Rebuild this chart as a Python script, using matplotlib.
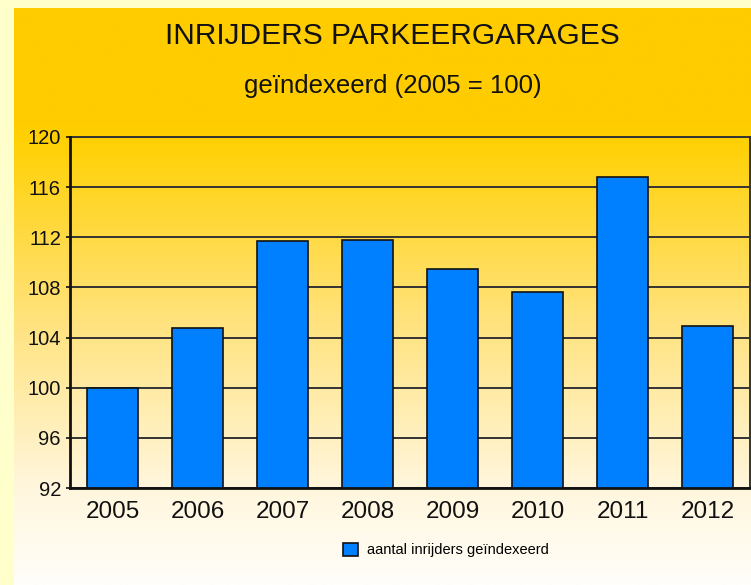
import matplotlib
matplotlib.use('Agg')
import matplotlib.pyplot as plt
import numpy as np
from matplotlib.colors import LinearSegmentedColormap

years = ['2005', '2006', '2007', '2008', '2009', '2010', '2011', '2012']
index_values = [100.0, 104.8, 111.7, 111.8, 109.5, 107.6, 116.8, 104.9]
y_ticks = [92, 96, 100, 104, 108, 112, 116, 120]

title = 'INRIJDERS PARKEERGARAGES'
subtitle = 'geïndexeerd (2005 = 100)'
legend_label = 'aantal inrijders geïndexeerd'

plt.rcParams['font.family'] = ['Liberation Sans', 'DejaVu Sans']

W, H = 751, 585
fig = plt.figure(figsize=(W / 100, H / 100), dpi=100)
fig.patch.set_facecolor('#FFFFCC')

# chart background: solid gold on top, fading to near white
bg = fig.add_axes([14 / W, 0, 1 - 14 / W, 1 - 8 / H], zorder=0)
bg.axis('off')
cmap = LinearSegmentedColormap.from_list(
    'bg', [(0.0, '#FFCC00'), (0.19, '#FFCC00'), (0.22, '#FFD000'),
           (0.55, '#FFE380'), (0.83, '#FFF6DC'), (1.0, '#FFFEFA')])
grad = np.linspace(0, 1, 400).reshape(-1, 1)
bg.imshow(grad, aspect='auto', cmap=cmap, extent=[0, 1, 0, 1], origin='upper')

ax = fig.add_axes([70 / W, (H - 488) / H, 680 / W, 351 / H], zorder=1)
ax.patch.set_alpha(0)

x = np.arange(len(years))
bars = ax.bar(x, index_values, width=0.59, bottom=0, color='#0080FF',
              edgecolor='#111111', linewidth=1.2, zorder=3, label=legend_label)

ax.set_xlim(-0.5, len(years) - 0.5)
ax.set_ylim(92, 120)
ax.set_yticks(y_ticks)
ax.set_xticks(x)
ax.set_xticklabels(years, fontsize=17.5)
ax.tick_params(axis='y', labelsize=14.5, length=3, width=1.2, pad=3.5, colors='#111111')
ax.tick_params(axis='x', length=0, pad=9, colors='#111111')
ax.yaxis.grid(True, color='#333333', linewidth=1.4, zorder=1)
ax.set_axisbelow(True)

for side in ['left', 'bottom']:
    ax.spines[side].set_linewidth(2)
    ax.spines[side].set_color('#111111')
    ax.spines[side].set_zorder(4)
ax.spines['top'].set_linewidth(1.4)
ax.spines['top'].set_color('#333333')
ax.spines['right'].set_linewidth(1.4)
ax.spines['right'].set_color('#333333')

fig.text(392 / W, 1 - 36 / H, title, fontsize=21.5, ha='center', va='center', color='#111111')
fig.text(393 / W, 1 - 86 / H, subtitle, fontsize=18.5, ha='center', va='center', color='#111111')

fig.legend(handles=[bars], labels=[legend_label], loc='center',
           bbox_to_anchor=(446 / W, 1 - 550 / H), frameon=False, fontsize=10.5,
           handlelength=1.0, handleheight=1.0, handletextpad=0.6)

fig.savefig('out.png', dpi=100, facecolor=fig.get_facecolor())
